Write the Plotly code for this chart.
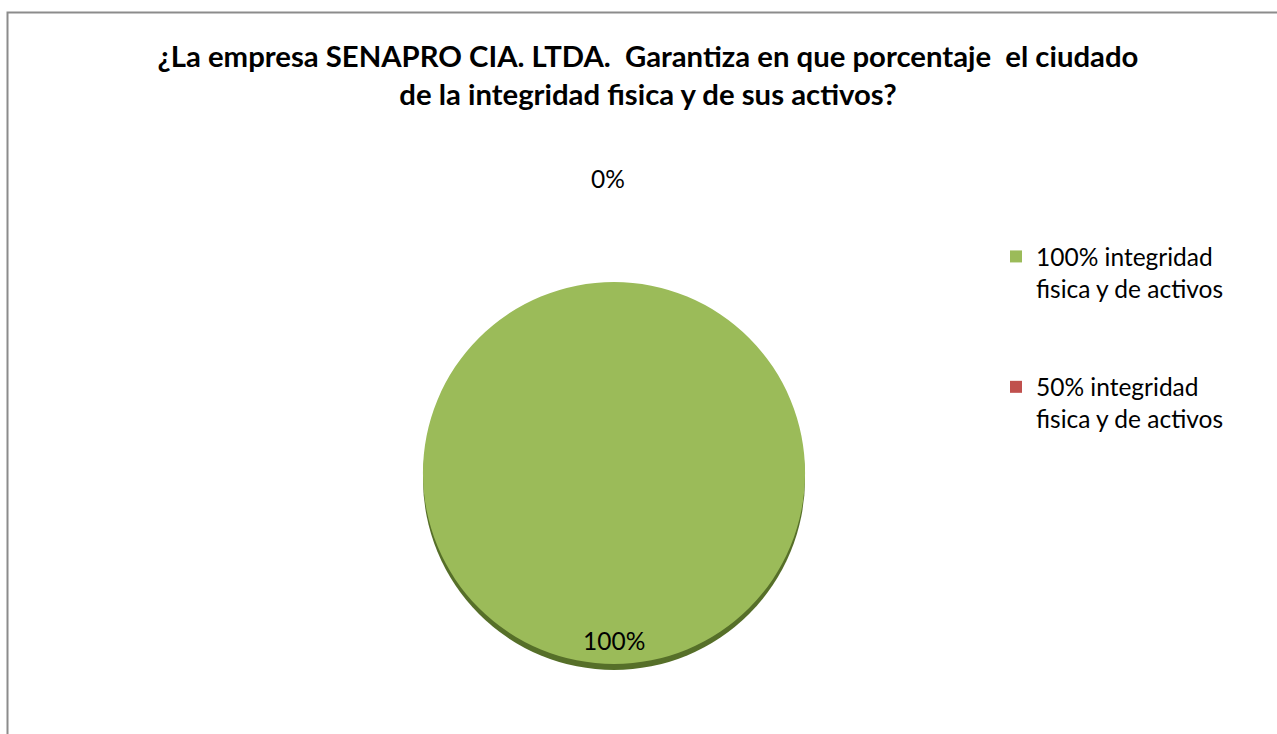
import plotly.graph_objects as go

labels = ["100% integridad<br>fisica y de activos", "50% integridad<br>fisica y de activos"]
values = [100, 0]
colors = ["#9BBB59", "#C0504D"]
shadow_colors = ["#566F29", "#7D2F2D"]
title_text = ("<b>¿La empresa SENAPRO CIA. LTDA.&nbsp; Garantiza en que porcentaje&nbsp; el ciudado<br>"
              "de la integridad fisica y de sus activos?</b>")

W, H = 1277, 734
FONT = "Lato"

cx, cy, r = 614, 473, 191
dom_x = [(cx - r) / W, (cx + r) / W]
dom_y = [(H - cy - r) / H, (H - cy + r) / H]
sh = 6
dom_y_sh = [(H - cy - r - sh) / H, (H - cy + r - sh) / H]

# legend labels padded with blank lines to reproduce the wide spacing between entries
legend_labels = [l + "<br> <br> " for l in labels]

fig = go.Figure()
fig.add_trace(go.Pie(
    labels=legend_labels, values=values, sort=False, direction="clockwise",
    marker=dict(colors=shadow_colors, line=dict(width=0)),
    textinfo="none", hoverinfo="skip", showlegend=False,
    domain=dict(x=dom_x, y=dom_y_sh),
))
fig.add_trace(go.Pie(
    labels=legend_labels, values=values, sort=False, direction="clockwise",
    marker=dict(colors=colors, line=dict(width=0)),
    textinfo="none", showlegend=True,
    domain=dict(x=dom_x, y=dom_y),
))

total = sum(values)
pct = [f"{v / total:.0%}" for v in values]
fig.add_annotation(x=cx / W, y=1 - 640 / H, xref="paper", yref="paper",
                   xanchor="center", yanchor="middle",
                   text=pct[0], showarrow=False,
                   font=dict(family=FONT, size=24.5, color="#000000"))
fig.add_annotation(x=608 / W, y=1 - 178 / H, xref="paper", yref="paper",
                   xanchor="center", yanchor="middle",
                   text=pct[1], showarrow=False,
                   font=dict(family=FONT, size=24.5, color="#000000"))

fig.add_shape(type="rect", xref="paper", yref="paper",
              x0=7.5 / W, x1=1.02, y0=-0.02, y1=1 - 12.5 / H,
              line=dict(color="#8C8C8C", width=2), fillcolor="rgba(0,0,0,0)", layer="below")

fig.update_layout(
    width=W, height=H,
    margin=dict(l=0, r=0, t=0, b=0),
    paper_bgcolor="white", plot_bgcolor="white",
    title=dict(text=title_text, x=648 / W, xanchor="center", xref="paper",
               y=1 - 67 / H, yanchor="top", yref="container",
               font=dict(family=FONT, size=29.3, color="#000000")),
    legend=dict(x=996 / W, xanchor="left", y=1 - 234 / H, yanchor="top",
                valign="top",
                font=dict(family=FONT, size=24.5, color="#000000"),
                bgcolor="rgba(0,0,0,0)", tracegroupgap=0),
    showlegend=True,
)

fig.write_html("out.html")
